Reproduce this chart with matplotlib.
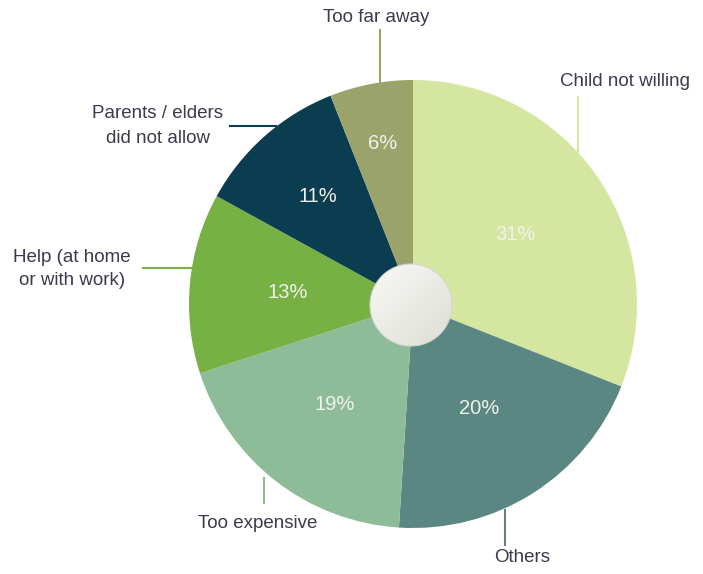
import numpy as np
import matplotlib
matplotlib.use("Agg")
import matplotlib.pyplot as plt
from matplotlib.patches import Circle

categories = ["Child not willing", "Others", "Too expensive",
              "Help (at home\nor with work)", "Parents / elders\ndid not allow", "Too far away"]
values = [31, 20, 19, 13, 11, 6]
pct_labels = ["31%", "20%", "19%", "13%", "11%", "6%"]
colors = ["#d5e6a1", "#5a8782", "#8fbc98", "#77b043", "#0b3d50", "#9aa36a"]

W, H = 703, 574
plt.rcParams['font.family'] = ['Liberation Sans', 'DejaVu Sans']
fig = plt.figure(figsize=(W / 100, H / 100), dpi=100)
ax = fig.add_axes([0, 0, 1, 1])
ax.set_xlim(0, W)
ax.set_ylim(0, H)
ax.set_aspect('equal')
ax.axis('off')

cx, cy, R = 413, H - 304, 224

wedges, _ = ax.pie(values, colors=colors, startangle=90, counterclock=False,
                   center=(cx, cy), radius=R, frame=True,
                   wedgeprops=dict(linewidth=0))
ax.set_xlim(0, W)
ax.set_ylim(0, H)
ax.axis('off')

# percentage labels
rad_frac = [0.55, 0.55, 0.57, 0.56, 0.64, 0.73]
for w, lab, rf in zip(wedges, pct_labels, rad_frac):
    ang = np.deg2rad((w.theta1 + w.theta2) / 2)
    ax.text(cx + rf * R * np.cos(ang), cy + rf * R * np.sin(ang), lab,
            ha='center', va='center', color='#f2f2ec', fontsize=14.5)

def py(y):
    return H - y

tc = '#3b3b4a'
fs = 13.5
# leader lines and category labels
ax.plot([380, 380], [py(30), py(82)], color=colors[5], lw=1.5)
ax.text(376, py(18), categories[5], ha='center', va='center', color=tc, fontsize=fs)

ax.plot([578, 578], [py(97), py(152)], color=colors[0], lw=1.5)
ax.text(625, py(82), categories[0], ha='center', va='center', color=tc, fontsize=fs)

ax.plot([230, 276], [py(126), py(126)], color=colors[4], lw=1.5)
ax.text(158, py(126), categories[4], ha='center', va='center', color=tc,
        fontsize=fs, linespacing=1.55)

ax.plot([143, 193], [py(268), py(268)], color=colors[3], lw=1.5)
ax.text(72, py(269), categories[3], ha='center', va='center', color=tc,
        fontsize=fs, linespacing=1.45)

ax.plot([264, 264], [py(478), py(503)], color=colors[2], lw=1.5)
ax.text(258, py(523), categories[2], ha='center', va='center', color=tc, fontsize=fs)

ax.plot([505, 505], [py(510), py(545)], color=colors[1], lw=1.5)
ax.text(522, py(558), categories[1], ha='center', va='center', color=tc, fontsize=fs)

# center disk with soft gradient
hr = 41
hx, hy = 411, py(305)
n = 200
gx, gy = np.meshgrid(np.linspace(-1, 1, n), np.linspace(-1, 1, n))
t = np.clip((gx + gy + 2) / 4, 0, 1)  # light at top-left, darker bottom-right
c0 = np.array([0.975, 0.975, 0.965])
c1 = np.array([0.87, 0.87, 0.84])
img = c0[None, None, :] * (1 - t[..., None]) + c1[None, None, :] * t[..., None]
im = ax.imshow(img, extent=(hx - hr, hx + hr, hy - hr, hy + hr), origin='upper', zorder=5)
clip = Circle((hx, hy), hr, transform=ax.transData)
im.set_clip_path(clip)
ax.add_patch(Circle((hx, hy), hr, fill=False, edgecolor='#d6d6d0', lw=0.8, zorder=6))
ax.set_xlim(0, W)
ax.set_ylim(0, H)

fig.savefig("out.png", dpi=100)
